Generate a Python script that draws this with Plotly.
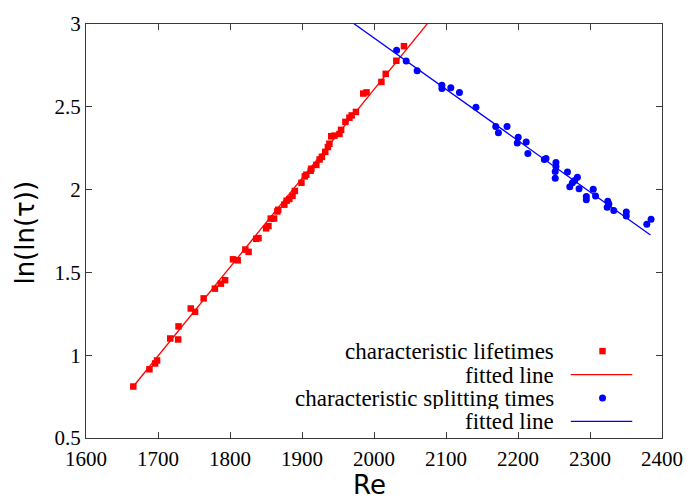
import plotly.graph_objects as go
import numpy as np

# ---- data ----
lifetime_re = [1665.7, 1688.1, 1696.0, 1698.7, 1717.0, 1728.0, 1728.5, 1745.5, 1751.5, 1763.4,
               1779.0, 1787.3, 1793.2, 1804.2, 1810.7, 1821.3, 1825.8, 1836.4, 1839.6, 1850.2,
               1853.4, 1856.6, 1861.2, 1865.7, 1867.0, 1875.4, 1878.6, 1882.3, 1886.8, 1890.1,
               1899.2, 1903.9, 1906.0, 1912.1, 1913.0, 1919.9, 1924.5, 1927.7, 1932.3, 1936.0,
               1938.0, 1940.6, 1945.2, 1952.0, 1954.3, 1960.3, 1965.8, 1969.0, 1974.9, 1985.1,
               1989.7, 2010.3, 2016.3, 2031.0, 2041.6]
lifetime_val = [0.811, 0.915, 0.950, 0.968, 1.101, 1.095, 1.174, 1.282, 1.262, 1.343,
                1.402, 1.432, 1.453, 1.579, 1.573, 1.638, 1.624, 1.703, 1.707, 1.766,
                1.780, 1.825, 1.825, 1.868, 1.878, 1.909, 1.933, 1.943, 1.962, 1.992,
                2.041, 2.080, 2.090, 2.114, 2.126, 2.149, 2.182, 2.198, 2.228, 2.257,
                2.277, 2.322, 2.326, 2.336, 2.361, 2.409, 2.434, 2.448, 2.469, 2.580,
                2.587, 2.650, 2.699, 2.778, 2.866]

split_re = [2031.4, 2044.7, 2059.9, 2094.3, 2094.3, 2106.7, 2118.7, 2141.6, 2169.1, 2172.8,
            2184.8, 2200.3, 2199.0, 2211.4, 2213.7, 2236.6, 2238.9, 2252.7, 2252.7, 2251.7,
            2251.7, 2268.7, 2282.5, 2278.8, 2275.6, 2271.9, 2284.8, 2304.5, 2307.7, 2294.9,
            2294.9, 2324.7, 2326.2, 2323.9, 2333.0, 2350.4, 2350.4, 2378.9, 2384.8]
split_val = [2.841, 2.776, 2.717, 2.630, 2.611, 2.615, 2.587, 2.498, 2.381, 2.344,
             2.381, 2.316, 2.281, 2.288, 2.218, 2.182, 2.188, 2.163, 2.139, 2.110,
             2.068, 2.106, 2.074, 2.055, 2.041, 2.017, 2.005, 2.002, 1.962, 1.958,
             1.939, 1.929, 1.913, 1.893, 1.874, 1.864, 1.840, 1.791, 1.821]

# fitted lines: y = y0 + slope * (Re - Re0), drawn over [start, end]
red_fit = dict(re0=1665.7, y0=0.811, slope=0.005365, start=1664.0, end=2100.0)
blue_fit = dict(re0=1972.8, y0=3.0, slope=-0.003098, start=1950.0, end=2384.0)

x_ticks = [1600, 1700, 1800, 1900, 2000, 2100, 2200, 2300, 2400]
y_ticks = [0.5, 1, 1.5, 2, 2.5, 3]
y_tick_labels = ["0.5", "1", "1.5", "2", "2.5", "3"]

legend_labels = ["characteristic lifetimes", "fitted line",
                 "characteristic splitting times", "fitted line"]

RED = "#ff0000"
BLUE = "#0000ff"
FRAME = "#3a3a3a"
SERIF = "Liberation Serif, Times New Roman, serif"
SANS = "DejaVu Sans, sans-serif"


def fit_xy(p):
    xs = np.array([p["start"], p["end"]])
    return xs, p["y0"] + p["slope"] * (xs - p["re0"])


fig = go.Figure()
rx, ry = fit_xy(red_fit)
bx, by = fit_xy(blue_fit)
fig.add_trace(go.Scatter(x=rx, y=ry, mode="lines", line=dict(color=RED, width=1.3),
                         showlegend=False, hoverinfo="skip"))
fig.add_trace(go.Scatter(x=bx, y=by, mode="lines", line=dict(color=BLUE, width=1.3),
                         showlegend=False, hoverinfo="skip"))
fig.add_trace(go.Scatter(x=lifetime_re, y=lifetime_val, mode="markers",
                         marker=dict(symbol="square", size=6.5, color=RED, line=dict(width=0)),
                         showlegend=False))
fig.add_trace(go.Scatter(x=split_re, y=split_val, mode="markers",
                         marker=dict(symbol="circle", size=7, color=BLUE, line=dict(width=0)),
                         showlegend=False))

W, H = 695, 502
L, R, T, B = 86, 28, 14, 64
pw, ph = W - L - R, H - T - B


def px2paper(px, py):
    return (px - L) / pw, (H - B - py) / ph


# ---- gnuplot-style legend (text right-aligned, sample on the right) ----
rows_py = [349, 373, 397, 421]
text_right_px = 559
sample_px = 607
line_x0_px, line_x1_px = 575, 637
for i, (lab, py) in enumerate(zip(legend_labels, rows_py)):
    xp, yp = px2paper(text_right_px, py)
    fig.add_annotation(x=xp, y=yp, xref="paper", yref="paper", text=lab, showarrow=False,
                       xanchor="right", yanchor="middle", height=22, borderpad=0,
                       font=dict(family=SERIF, size=23, color="#000000"))
    if i in (1, 3):
        x0, y0 = px2paper(line_x0_px, py)
        x1, _ = px2paper(line_x1_px, py)
        fig.add_shape(type="line", xref="paper", yref="paper", x0=x0, x1=x1, y0=y0, y1=y0,
                      line=dict(color=RED if i == 1 else BLUE, width=1.3))
    else:
        xa, ya = px2paper(sample_px, py)
        fig.add_shape(type="rect" if i == 0 else "circle", xref="paper", yref="paper",
                      xsizemode="pixel", ysizemode="pixel", xanchor=xa, yanchor=ya,
                      x0=-3.2 if i == 0 else -3.5, x1=3.2 if i == 0 else 3.5,
                      y0=-3.2 if i == 0 else -3.5, y1=3.2 if i == 0 else 3.5,
                      fillcolor=RED if i == 0 else BLUE, line=dict(width=0))

# axis titles
fig.add_annotation(x=0.492, y=-0.113, xref="paper", yref="paper", text="Re", showarrow=False,
                   xanchor="center", yanchor="middle", font=dict(family=SANS, size=26, color="#000"))
fig.add_annotation(x=-0.105, y=0.495, xref="paper", yref="paper", text="ln(ln(τ))",
                   showarrow=False, textangle=-90, xanchor="center", yanchor="middle",
                   font=dict(family=SANS, size=26, color="#000"))

axis_common = dict(showgrid=False, zeroline=False, showline=True, linecolor=FRAME, linewidth=1,
                   mirror="allticks", ticks="inside", ticklen=6, tickcolor=FRAME, tickwidth=1,
                   tickfont=dict(family=SERIF, size=21, color="#000000"))
fig.update_xaxes(range=[1600, 2400], tickvals=x_ticks, ticktext=[str(v) for v in x_ticks],
                 ticklabelstandoff=2, **axis_common)
fig.update_yaxes(range=[0.5, 3], tickvals=y_ticks, ticktext=y_tick_labels, **axis_common)

fig.update_layout(width=W, height=H, margin=dict(l=L, r=R, t=T, b=B),
                  plot_bgcolor="white", paper_bgcolor="white", showlegend=False)

fig.write_html("out.html", config={"displayModeBar": False},
               post_script="document.body.style.margin='0';")
